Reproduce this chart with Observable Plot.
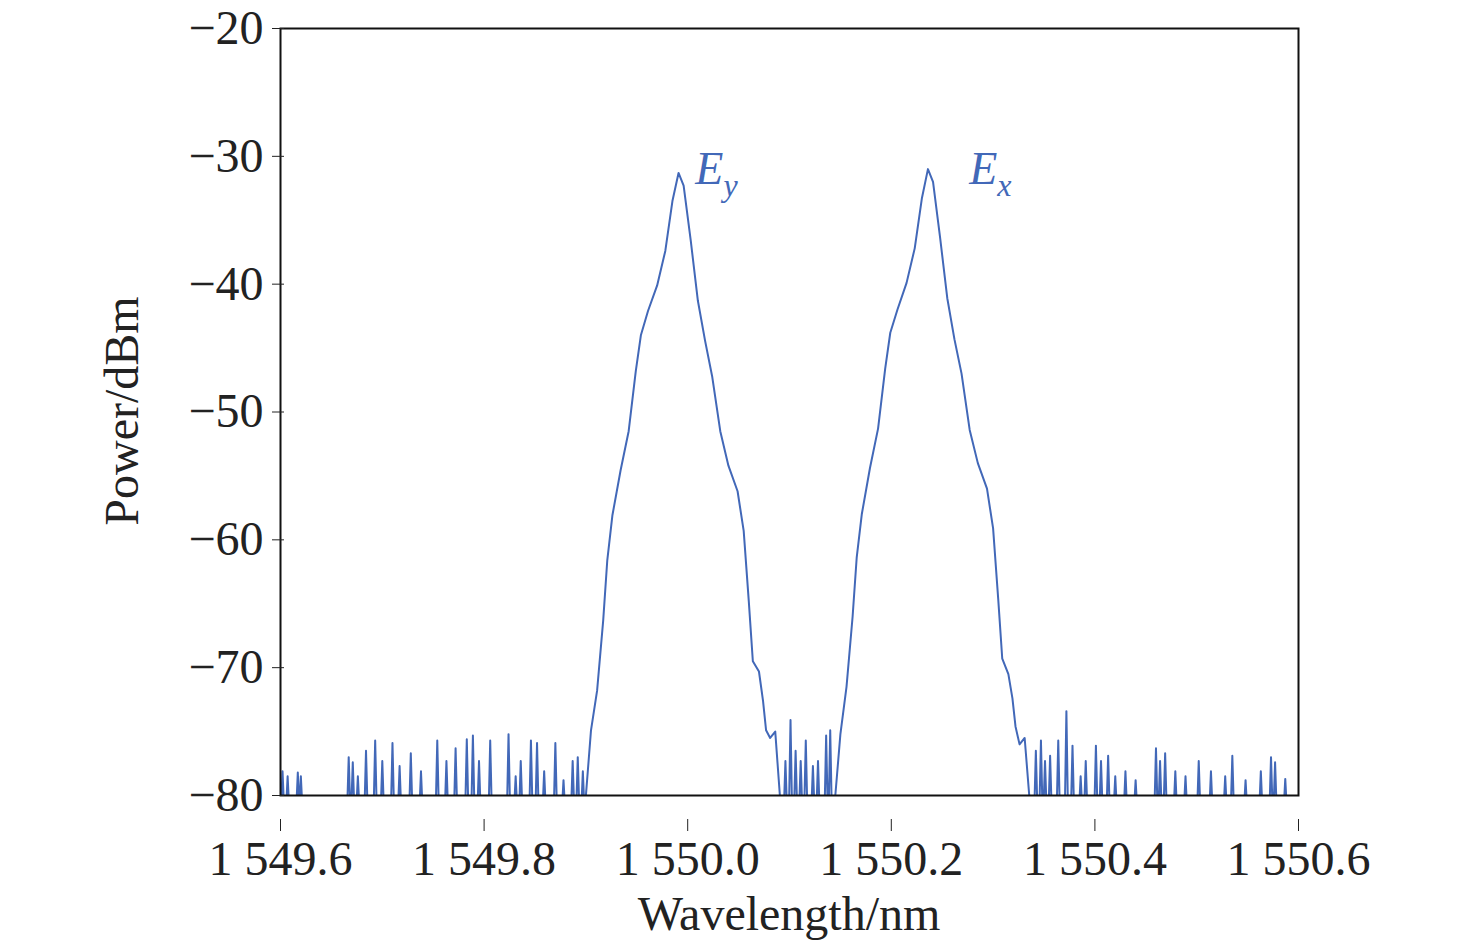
<!DOCTYPE html><html><head><meta charset="utf-8">
<script src="https://cdn.jsdelivr.net/npm/d3@7"></script>
<script src="https://cdn.jsdelivr.net/npm/@observablehq/plot@0.6"></script>
<style>body{margin:0;background:#fff}</style></head><body><div id="c"></div>
<script>
const eyWave=[1549.900,1549.905,1549.911,1549.917,1549.921,1549.926,1549.934,1549.942,1549.949,1549.954,1549.961,1549.970,1549.978,1549.985,1549.991,1549.996,1550.003,1550.010,1550.017,1550.024,1550.032,1550.040,1550.049,1550.055,1550.060,1550.064,1550.070,1550.074,1550.077,1550.081,1550.086,1550.091];
const eyPow=[-80,-74.9,-71.8,-66.3,-61.6,-58.1,-54.6,-51.5,-46.8,-44.0,-42.1,-40.1,-37.4,-33.5,-31.3,-32.3,-36.6,-41.3,-44.4,-47.2,-51.5,-54.2,-56.2,-59.3,-64.8,-69.5,-70.3,-72.6,-74.9,-75.5,-75.0,-80.5];
const exWave=[1550.145,1550.150,1550.156,1550.162,1550.166,1550.171,1550.179,1550.187,1550.194,1550.199,1550.206,1550.215,1550.223,1550.230,1550.236,1550.241,1550.248,1550.255,1550.262,1550.269,1550.277,1550.285,1550.294,1550.300,1550.305,1550.309,1550.315,1550.319,1550.322,1550.326,1550.331,1550.336];
const exPow=[-80,-75.2,-71.5,-66.0,-61.4,-58.0,-54.4,-51.3,-46.6,-43.8,-42.0,-39.9,-37.2,-33.3,-31.0,-32.0,-36.4,-41.1,-44.3,-47.0,-51.4,-54.0,-56.0,-59.1,-64.6,-69.3,-70.5,-72.4,-74.6,-76.0,-75.5,-80.5];
const spikeWave=[1549.602,1549.607,1549.617,1549.620,1549.667,1549.671,1549.676,1549.684,1549.693,1549.700,1549.710,1549.717,1549.728,1549.738,1549.754,1549.763,1549.772,1549.783,1549.789,1549.795,1549.806,1549.824,1549.831,1549.836,1549.846,1549.852,1549.859,1549.870,1549.878,1549.887,1549.892,1549.897,
1550.096,1550.101,1550.106,1550.111,1550.116,1550.123,1550.128,1550.136,1550.140,
1550.342,1550.347,1550.351,1550.356,1550.364,1550.372,1550.378,1550.386,1550.391,1550.401,1550.406,1550.413,1550.420,1550.430,1550.440,1550.460,1550.464,1550.469,1550.479,1550.489,1550.502,1550.514,1550.528,1550.535,1550.548,1550.563,1550.573,1550.577,1550.587];
const spikePow=[-78.1,-78.5,-78.2,-78.5,-77.0,-77.4,-78.5,-76.5,-75.7,-77.3,-75.9,-77.7,-76.7,-78.1,-75.7,-77.3,-76.3,-75.6,-75.3,-77.3,-75.7,-75.2,-78.5,-77.3,-75.7,-75.9,-78.1,-75.9,-78.8,-77.3,-77.0,-78.1,
-77.3,-74.1,-76.5,-77.3,-75.7,-77.7,-77.3,-75.3,-74.9,
-76.5,-75.7,-77.3,-76.9,-75.7,-73.4,-76.1,-78.5,-77.3,-76.1,-77.3,-76.9,-78.5,-78.1,-78.8,-76.3,-77.3,-76.7,-78.1,-78.5,-77.3,-78.1,-78.5,-76.9,-78.8,-78.1,-77.0,-77.4,-78.7];
const xTicks=[1549.6,1549.8,1550.0,1550.2,1550.4,1550.6];
const yTicks=[-80,-70,-60,-50,-40,-30,-20];

const pts=[];
eyWave.forEach((w,i)=>pts.push({w,p:eyPow[i]}));
exWave.forEach((w,i)=>pts.push({w,p:exPow[i]}));
spikeWave.forEach((w,i)=>{pts.push({w:w-0.0015,p:-81});pts.push({w,p:spikePow[i]});pts.push({w:w+0.0015,p:-81});});
pts.sort((a,b)=>a.w-b.w);
const col="#4268b8";
const font="Liberation Serif";
const xf=d=>{const s=d3.format(".1f")(d);return s[0]+" "+s.slice(1);};
const yf=d=>String(d).replace("-","−");
const plot=Plot.plot({
  width:1476,height:949,marginLeft:280,marginRight:178,marginTop:28,marginBottom:154,
  style:{fontFamily:font,fontSize:"48px",color:"#222",background:"#fff"},
  x:{domain:[1549.6,1550.6]},
  y:{domain:[-80,-20]},
  marks:[
    Plot.line(pts,{x:"w",y:"p",stroke:col,strokeWidth:2,clip:true}),
    Plot.frame({stroke:"#111",strokeWidth:2}),
    Plot.axisX({ticks:xTicks,tickFormat:xf,tickSize:-12,dy:36,label:null,fontSize:48,fontFamily:font}),
    Plot.axisY({ticks:yTicks,tickFormat:yf,tickSize:-12,dx:-8,label:null,fontSize:48,fontFamily:font})
  ]
});
document.getElementById("c").appendChild(plot);
const svg=d3.select(plot);
const xs=plot.scale("x"),ys=plot.scale("y");
svg.append("text").attr("x",789).attr("y",930).attr("text-anchor","middle").attr("font-family",font).attr("font-size",48).attr("fill","#222").text("Wavelength/nm");
svg.append("text").attr("transform","translate(138,411) rotate(-90)").attr("text-anchor","middle").attr("font-family",font).attr("font-size",48).attr("fill","#222").text("Power/dBm");
[["E","y",1550.008,-32.2],["E","x",1550.277,-32.2]].forEach(([a,b,w,p])=>{
  const t=svg.append("text").attr("x",xs.apply(w)).attr("y",ys.apply(p)).attr("text-anchor","start").attr("fill",col).attr("font-family",font).attr("font-style","italic").attr("font-size",46);
  t.append("tspan").text(a);
  t.append("tspan").attr("dy",12).attr("font-size",32).text(b);
});
</script></body></html>
